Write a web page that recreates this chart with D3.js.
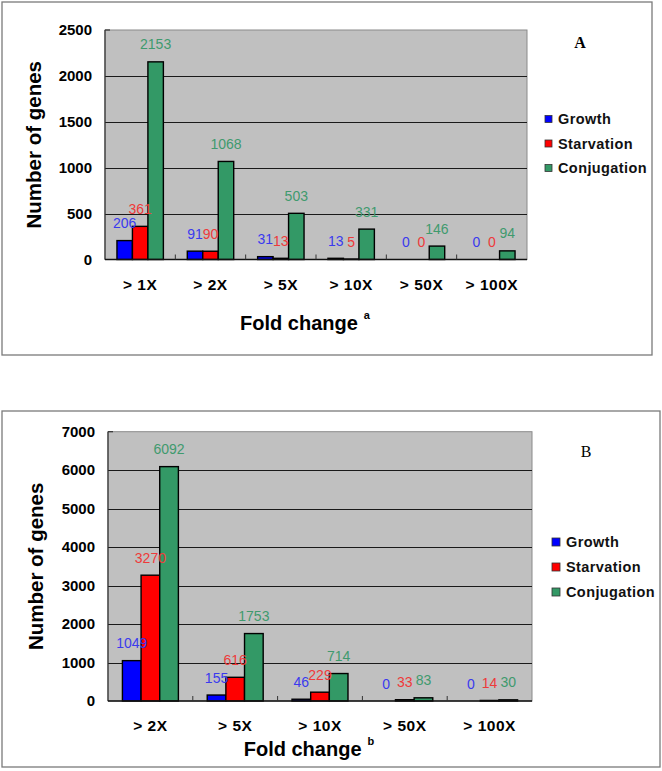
<!DOCTYPE html>
<html>
<head>
<meta charset="utf-8">
<script src="https://cdn.jsdelivr.net/npm/d3@7/dist/d3.min.js"></script>
<style>
  html, body { margin: 0; padding: 0; background: #fff; }
  svg { display: block; }
</style>
</head>
<body>
<svg id="chart" width="662" height="771"></svg>
<script>
// ---------------- data ----------------
const seriesNames = ["Growth", "Starvation", "Conjugation"];

const categoriesA = ["> 1X", "> 2X", "> 5X", "> 10X", "> 50X", "> 100X"];
const growthA      = [206, 91, 31, 13, 0, 0];
const starvationA  = [361, 90, 13, 5, 0, 0];
const conjugationA = [2153, 1068, 503, 331, 146, 94];
const yTicksA      = [0, 500, 1000, 1500, 2000, 2500];

const categoriesB = ["> 2X", "> 5X", "> 10X", "> 50X", "> 100X"];
const growthB      = [1049, 155, 46, 0, 0];
const starvationB  = [3270, 616, 229, 33, 14];
const conjugationB = [6092, 1753, 714, 83, 30];
const yTicksB      = [0, 1000, 2000, 3000, 4000, 5000, 6000, 7000];

// ---------------- style ----------------
const barFill   = { Growth: "#0000ff", Starvation: "#ff0000", Conjugation: "#339966" };
const labelFill = { Growth: "#3a3aee", Starvation: "#ee3a3a", Conjugation: "#3f9a6e" };

const svg = d3.select("#chart");
svg.append("rect").attr("width", 662).attr("height", 771).attr("fill", "#fff");

function drawPanel(o) {
  const g = svg.append("g");
  // outer frame
  g.append("rect")
    .attr("x", o.frame[0]).attr("y", o.frame[1])
    .attr("width", o.frame[2] - o.frame[0]).attr("height", o.frame[3] - o.frame[1])
    .attr("fill", "none").attr("stroke", "#7a7a7a").attr("stroke-width", 1.3);

  const x = d3.scaleBand().domain(o.categories).range([o.left, o.right]).padding(0);
  const xs = d3.scaleBand().domain(seriesNames)
    .range([x.bandwidth() * 0.17, x.bandwidth() * 0.83]).padding(0);
  const y = d3.scaleLinear().domain([0, o.yMax]).range([o.bottom, o.top]);

  // plot background
  g.append("rect")
    .attr("x", o.left).attr("y", o.top)
    .attr("width", o.right - o.left).attr("height", o.bottom - o.top)
    .attr("fill", "#c0c0c0").attr("stroke", "#8a8a8a").attr("stroke-width", 1);

  // gridlines
  g.selectAll(".grid").data(o.yTicks.filter(t => t > 0 && t < o.yMax)).join("line")
    .attr("x1", o.left).attr("x2", o.right)
    .attr("y1", d => Math.round(y(d)) + 0.5).attr("y2", d => Math.round(y(d)) + 0.5)
    .attr("stroke", "#1a1a1a").attr("stroke-width", 1);

  // y axis line
  g.append("line").attr("x1", o.left).attr("x2", o.left).attr("y1", o.top).attr("y2", o.bottom)
    .attr("stroke", "#333").attr("stroke-width", 1.2);
  g.append("line").attr("x1", o.left).attr("x2", o.left + 5).attr("y1", o.top).attr("y2", o.top)
    .attr("stroke", "#333").attr("stroke-width", 1.2);

  // bars
  const rows = o.categories.map((c, i) => ({ cat: c, vals: seriesNames.map((s, k) => ({ s, v: o.series[k][i] })) }));
  const grp = g.selectAll(".grp").data(rows).join("g")
    .attr("transform", d => `translate(${x(d.cat)},0)`);
  grp.selectAll("rect").data(d => d.vals.filter(e => e.v > 0)).join("rect")
    .attr("x", d => xs(d.s)).attr("width", xs.bandwidth())
    .attr("y", d => y(d.v)).attr("height", d => o.bottom - y(d.v))
    .attr("fill", d => barFill[d.s]).attr("stroke", "#000").attr("stroke-width", 1.4);
  grp.selectAll("text").data(d => d.vals).join("text")
    .attr("x", d => xs(d.s) + xs.bandwidth() / 2)
    .attr("y", d => y(d.v) - 12.5)
    .attr("text-anchor", "middle")
    .attr("font-family", "Liberation Sans, Arial, sans-serif")
    .attr("font-size", 14)
    .attr("fill", d => labelFill[d.s])
    .text(d => d.v);

  // baseline + category boundary ticks
  g.append("line").attr("x1", o.left).attr("x2", o.right).attr("y1", o.bottom).attr("y2", o.bottom)
    .attr("stroke", "#111").attr("stroke-width", 1.6);
  g.selectAll(".xt").data(o.categories.slice(1)).join("line")
    .attr("x1", d => x(d)).attr("x2", d => x(d))
    .attr("y1", o.bottom).attr("y2", o.bottom - 5)
    .attr("stroke", "#333").attr("stroke-width", 1);

  // y axis labels
  const ya = g.append("g").attr("transform", `translate(${o.left},0)`)
    .call(d3.axisLeft(y).tickValues(o.yTicks).tickSize(0).tickPadding(13).tickFormat(d3.format("d")));
  ya.select(".domain").remove();
  ya.selectAll("text")
    .attr("font-family", "Liberation Sans, Arial, sans-serif")
    .attr("font-size", 15).attr("font-weight", "bold")
    .attr("fill", "#000");

  // x axis labels
  const xa = g.append("g").attr("transform", `translate(0,${o.bottom})`)
    .call(d3.axisBottom(x).tickSize(0).tickPadding(o.xPad));
  xa.select(".domain").remove();
  xa.selectAll("text")
    .attr("font-family", "Liberation Sans, Arial, sans-serif")
    .attr("font-size", 15.5).attr("font-weight", "bold")
    .attr("letter-spacing", "0.5px").attr("fill", "#000");

  // axis titles
  const xt = g.append("text")
    .attr("x", o.xTitle[0]).attr("y", o.xTitle[1])
    .attr("text-anchor", "middle")
    .attr("font-family", "Liberation Sans, Arial, sans-serif")
    .attr("font-size", 20).attr("font-weight", "bold").attr("fill", "#000");
  xt.append("tspan").text("Fold change");
  xt.append("tspan").attr("dx", 6).attr("dy", -11).attr("font-size", 11).text(o.sup);

  g.append("text")
    .attr("transform", `translate(${o.yTitle[0]},${(o.top + o.bottom) / 2}) rotate(-90)`)
    .attr("text-anchor", "middle").attr("dy", "0.35em")
    .attr("font-family", "Liberation Sans, Arial, sans-serif")
    .attr("font-size", 20.5).attr("font-weight", "bold").attr("fill", "#000")
    .text("Number of genes");

  // panel letter
  g.append("text").attr("x", o.letterPos[0]).attr("y", o.letterPos[1])
    .attr("text-anchor", "middle").attr("dy", "0.35em")
    .attr("font-family", "Liberation Serif, Times New Roman, serif")
    .attr("font-size", 16).attr("font-weight", o.letterBold ? "bold" : "normal")
    .text(o.letter);

  // legend
  const lg = g.selectAll(".lg").data(seriesNames).join("g")
    .attr("transform", (d, i) => `translate(${o.legend[0]},${o.legend[1] + i * o.legend[2]})`);
  lg.append("rect").attr("x", 0).attr("y", -o.legend[3] / 2)
    .attr("width", o.legend[3]).attr("height", o.legend[3])
    .attr("fill", d => barFill[d]).attr("stroke", "#333").attr("stroke-width", 0.8);
  lg.append("text").attr("x", o.legend[3] + 6).attr("dy", "0.36em")
    .attr("font-family", "Liberation Sans, Arial, sans-serif")
    .attr("font-size", 14.5).attr("font-weight", "bold").attr("letter-spacing", "0.4px")
    .attr("fill", "#111")
    .text(d => d);
}

drawPanel({
  frame: [2, 2, 652, 355],
  categories: categoriesA,
  series: [growthA, starvationA, conjugationA],
  yTicks: yTicksA, yMax: 2500,
  left: 105, right: 527, top: 30, bottom: 259.5,
  xPad: 19, xTitle: [305, 330], yTitle: [34], sup: "a",
  letter: "A", letterPos: [580, 42], letterBold: true,
  legend: [545, 119, 24.5, 7]
});

drawPanel({
  frame: [2, 411, 660, 767],
  categories: categoriesB,
  series: [growthB, starvationB, conjugationB],
  yTicks: yTicksB, yMax: 7000,
  left: 108, right: 532, top: 431.7, bottom: 701,
  xPad: 19, xTitle: [309, 756], yTitle: [36], sup: "b",
  letter: "B", letterPos: [586, 451], letterBold: false,
  legend: [552, 542, 25, 8]
});
</script>
</body>
</html>
